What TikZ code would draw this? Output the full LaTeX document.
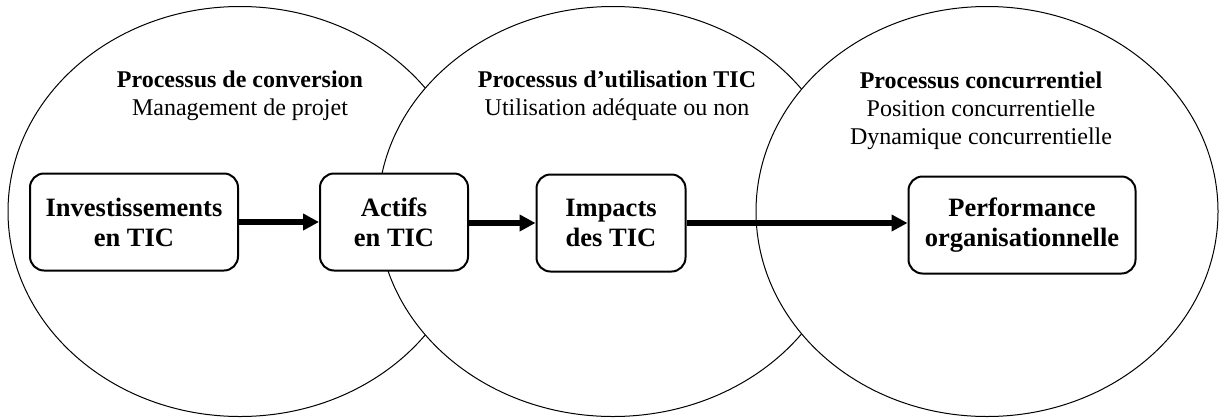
\documentclass[tikz,border=0pt]{standalone}
\usepackage{fontspec}
\setmainfont{Liberation Serif}
\usetikzlibrary{shapes.geometric, arrows.meta, positioning}
\tikzstyle{stage} = [ellipse, draw=black, fill=white, line width=0.5pt, minimum height=205pt, inner sep=0pt]
\tikzstyle{process} = [rectangle, rounded corners=7pt, minimum height=48.5pt, inner sep=0pt, text centered, align=center, draw=black, fill=white, line width=1pt, font=\fontsize{13.25}{15}\selectfont\bfseries]
\tikzstyle{arrow} = [line width=2.75pt, -{Triangle[length=8pt,width=8pt]}]

\begin{document}
\begin{tikzpicture}[x=0.5pt, y=-0.5pt, every node/.style={font=\fontsize{12}{14}\selectfont}]
    \useasboundingbox (0,0) rectangle (1219,418);

    % Process ellipses
    \node (conv) [stage, minimum width=232pt] at (240,211.5) {};
    \node (util) [stage, minimum width=235pt] at (613,211.5) {};
    \node (conc) [stage, minimum width=231pt] at (987,211.5) {};

    % Process labels
    \node (convlabel) [align=center] at (240,96) {\textbf{Processus de conversion} \\ Management de projet};
    \node (utillabel) [align=center] at (617,96) {\textbf{Processus d’utilisation TIC} \\ Utilisation adéquate ou non};
    \node (conclabel) [align=center] at (981,111) {\textbf{Processus concurrentiel} \\ Position concurrentielle \\ Dynamique concurrentielle};

    % Chain of boxes
    \node (invest) [process, minimum width=104pt] at (134,222) {Investissements \\ en TIC};
    \node (actifs) [process, minimum width=74pt] at (394,222) {Actifs \\ en TIC};
    \node (impacts) [process, minimum width=74.5pt] at (611,223) {Impacts \\ des TIC};
    \node (perf) [process, minimum width=113.5pt] at (1022,225) {Performance \\ organisationnelle};

    \draw [arrow] (invest) -- (actifs);
    \draw [arrow] (actifs.east |- impacts) -- (impacts);
    \draw [arrow] (impacts) -- (impacts -| perf.west);
\end{tikzpicture}
\end{document}
